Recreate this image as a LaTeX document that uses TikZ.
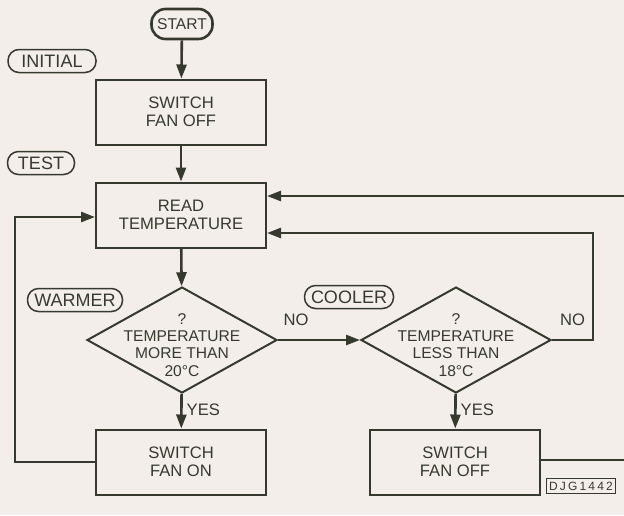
\documentclass[tikz,border=0pt]{standalone}
\usepackage{fontspec}
\setmainfont{Liberation Sans}
\usetikzlibrary{arrows.meta,positioning,shapes.geometric,calc}
\definecolor{ink}{RGB}{54,58,46}
\definecolor{paper}{RGB}{243,238,233}

\begin{document}
\begin{tikzpicture}[x=0.5pt,y=-0.5pt,
  every node/.style={font=\fontsize{8.3}{9}\selectfont,text=ink},
  box/.style={draw=ink,line width=1pt,fill=paper,align=center,minimum width=85pt,minimum height=32.5pt,inner sep=0pt},
  tag/.style={draw=ink,line width=0.75pt,rounded corners=5.5pt,minimum height=11.5pt,inner sep=1.5pt,font=\fontsize{9}{10}\selectfont},
  decision/.style={draw=ink,line width=1pt,diamond,fill=paper,minimum width=95pt,minimum height=53pt,inner sep=0pt},
  query/.style={align=center,font=\fontsize{7.8}{8.6}\selectfont},
  flow/.style={draw=ink,line width=1.3pt,-{Triangle[length=7pt,width=5pt]}},
  link/.style={draw=ink,line width=1.3pt}]
\path[use as bounding box,fill=paper] (0,0) rectangle (624,515);
% left column
\node[draw=ink,line width=1.3pt,rounded corners=7pt,minimum width=30.5pt,minimum height=15pt,inner sep=1pt,font=\fontsize{7.8}{9}\selectfont] (start) at (182,24) {START};
\node[tag,minimum width=44pt] (initial) at (52,61) {INITIAL};
\node[box] (off1) at (181,112) {SWITCH\\FAN OFF};
\node[tag,minimum width=33.5pt] (test) at (41,163) {TEST};
\node[box] (read) at (181,215) {READ\\TEMPERATURE};
\node[tag,minimum width=47.5pt] (warmer) at (75,300) {WARMER};
\node[decision] (more) at (182,340) {};
\node[query] (moretxt) at (182,345) {?\\TEMPERATURE\\MORE THAN\\20°C};
\node[box] (on) at (181,462) {SWITCH\\FAN ON};
% right column
\node[tag,minimum width=44.5pt] (cooler) at (349,297) {COOLER};
\node[decision] (less) at (456,340) {};
\node[query] (lesstxt) at (456,345) {?\\TEMPERATURE\\LESS THAN\\18°C};
\node[box] (off2) at (455,462) {SWITCH\\FAN OFF};
\node[draw=ink,line width=0.6pt,minimum width=34.5pt,minimum height=7.5pt,inner sep=0.5pt,font=\fontsize{6}{6}\selectfont\addfontfeature{LetterSpace=18}] (ref) at (581,486) {DJG1442};
\coordinate (inR) at (624,196);
\coordinate (outR) at (624,460);
\coordinate (loopL) at (15,217);
\coordinate (loopR) at (593,233);
% connectors
\draw[flow] (start) -- (off1);
\draw[flow] (off1) -- (read);
\draw[flow] (read) -- (more);
\draw[flow] (more) -- node[right,pos=0.45,inner sep=2pt]{YES} (on);
\draw[flow] (more.east) -- node[above,pos=0.22,yshift=3pt]{NO} (less.west);
\draw[flow] (less) -- node[right,pos=0.45,inner sep=2pt]{YES} (off2);
\draw[flow] (less.east) -| node[above,pos=0.25,yshift=3pt]{NO} (loopR) -- (read.east |- loopR);
\draw[flow] (inR) -- (read.east |- inR);
\draw[flow] (on.west) -| (loopL) -- (read.west |- loopL);
\draw[link] (off2.east |- outR) -- (outR);
\end{tikzpicture}
\end{document}
